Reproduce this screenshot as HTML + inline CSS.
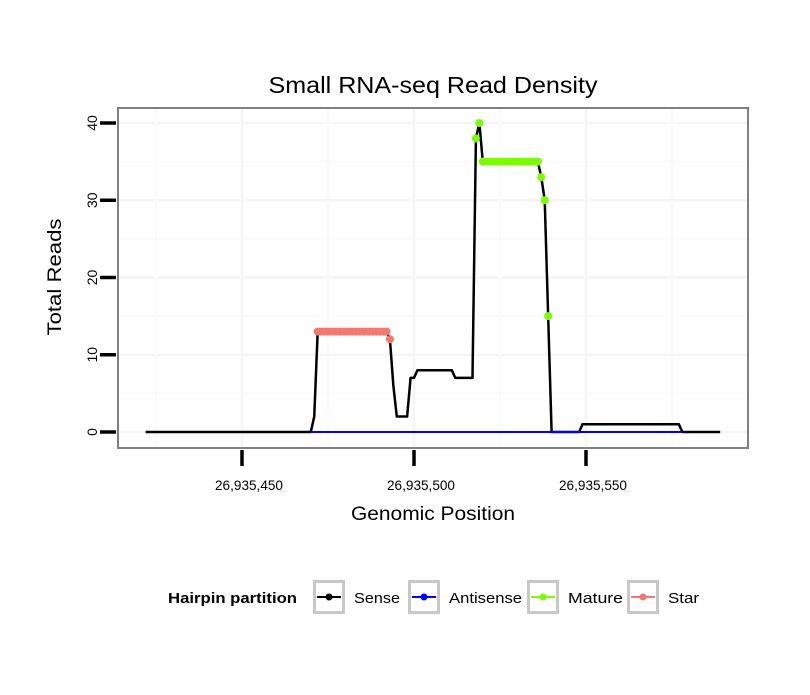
<!DOCTYPE html>
<html><head><meta charset="utf-8"><style>
body{margin:0;background:#fff;}
svg text{font-family:"Liberation Sans",Arial,sans-serif;}
</style></head><body>
<svg id="chart" width="810" height="690" xmlns="http://www.w3.org/2000/svg">
<rect width="810" height="690" fill="#fff"/>
<text x="433" y="93" font-size="23" text-anchor="middle" textLength="329" lengthAdjust="spacingAndGlyphs">Small RNA-seq Read Density</text>
<g id="grid"></g>
<g id="series"></g>
<rect x="118" y="108" width="630" height="340" fill="none" stroke="#808080" stroke-width="2"/>
<g id="axes"></g>
<text x="433" y="520" font-size="19" text-anchor="middle" textLength="164" lengthAdjust="spacingAndGlyphs">Genomic Position</text>
<text transform="translate(61,277) rotate(-90)" font-size="19" text-anchor="middle" textLength="117" lengthAdjust="spacingAndGlyphs">Total Reads</text>
<g>
<text x="168" y="603" font-size="15" font-weight="bold" textLength="129" lengthAdjust="spacingAndGlyphs">Hairpin partition</text>
<g id="legend"></g>
</g>
</svg>
<script>
const senseKeys = [26935422,26935470,26935471,26935472,26935492,26935493,26935494,26935495,26935498,26935499,26935500,26935501,26935511,26935512,26935517,26935518,26935519,26935520,26935536,26935537,26935538,26935539,26935540,26935548,26935549,26935577,26935578,26935589];
const senseVals = [0,0,2,13,13,12,6,2,2,7,7,8,8,7,7,38,40,35,35,33,30,15,0,0,1,1,0,0];
const antisenseRange = [26935470,26935578];
const matureVals = [38,40,35,35,35,35,35,35,35,35,35,35,35,35,35,35,35,35,35,33,30,15];
const matureStart = 26935518;
const starVals = [13,13,13,13,13,13,13,13,13,13,13,13,13,13,13,13,13,13,13,13,13,12];
const starStart = 26935472;
const xTicks = [26935450,26935500,26935550];
const xTickLabels = ["26,935,450","26,935,500","26,935,550"];
const yTicks = [0,10,20,30,40];

const NS="http://www.w3.org/2000/svg";
const X = v => 242 + (v - 26935450) * 3.44;
const Y = v => 432 - v * 7.725;
function mk(tag, attrs, parent){const e=document.createElementNS(NS,tag);for(const k in attrs)e.setAttribute(k,attrs[k]);document.getElementById(parent).appendChild(e);return e;}

for(let v=-5; v<=45; v+=5){const y=Y(v); if(y<109||y>447) continue;
 const g=mk('line',{x1:119,x2:747,y1:y,y2:y,stroke:v%10===0?'#f5f5f5':'#fafafa','stroke-width':v%10===0?2.5:2},'grid');
 
 }
for(let v=26935425; v<=26935600; v+=25){const x=X(v); if(x<119||x>747) continue;
 const g=mk('line',{x1:x,x2:x,y1:109,y2:447,stroke:(v%50===0)?'#f5f5f5':'#fafafa','stroke-width':(v%50===0)?2.5:2},'grid');
 
 }

let pts=senseKeys.map((k,i)=>X(k)+','+Y(senseVals[i])).join(' ');
let s=mk('polyline',{points:pts,fill:'none',stroke:'#000','stroke-width':2.5,'stroke-linejoin':'round'},'series');


let a=mk('line',{x1:X(antisenseRange[0]),x2:X(antisenseRange[1]),y1:Y(0),y2:Y(0),stroke:'#0000ff','stroke-width':2},'series');


starVals.forEach((v,i)=>{const c=mk('circle',{cx:X(starStart+i),cy:Y(v),r:4,fill:'#f8766d'},'series');
 
 });
matureVals.forEach((v,i)=>{const c=mk('circle',{cx:X(matureStart+i),cy:Y(v),r:4,fill:'#7cfc00'},'series');
 
 });

yTicks.forEach(v=>{const y=Y(v);
 const t=mk('line',{x1:100,x2:116,y1:y,y2:y,stroke:'#000','stroke-width':3.5},'axes');
 
 
 const l=mk('text',{transform:`translate(97,${y}) rotate(-90)`,'font-size':14,'text-anchor':'middle'},'axes');
 l.textContent=v;
 
 });
xTicks.forEach((v,i)=>{const x=X(v);
 const t=mk('line',{x1:x,x2:x,y1:450,y2:466,stroke:'#000','stroke-width':3.5},'axes');
 
 
 const l=mk('text',{x:x+7,y:490,'font-size':14,'text-anchor':'middle',textLength:68,lengthAdjust:'spacingAndGlyphs'},'axes');
 l.textContent=xTickLabels[i];
 
 });

const legNames=['Sense','Antisense','Mature','Star'];
const legColors=['#000','#0000ff','#7cfc00','#f8766d'];
const legX=[313,408,527,627];
const legW=[46,73,55,31];
legNames.forEach((n,i)=>{const bx=legX[i];
 const b=mk('rect',{x:bx+1.5,y:581.5,width:29,height:31,fill:'#fff',stroke:'#c8c8c8','stroke-width':3},'legend');
 
 
 mk('line',{x1:bx+4,x2:bx+28,y1:597,y2:597,stroke:legColors[i],'stroke-width':2},'legend');
 mk('circle',{cx:bx+16,cy:597,r:3.5,fill:legColors[i]},'legend');
 const t=mk('text',{x:bx+41,y:603,'font-size':15,textLength:legW[i],lengthAdjust:'spacingAndGlyphs'},'legend');
 t.textContent=n;
 
 });
</script>
</body></html>
